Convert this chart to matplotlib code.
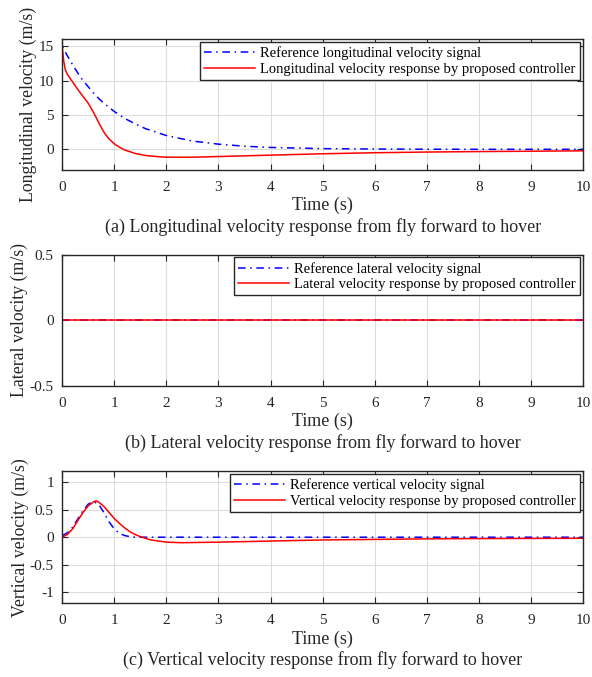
import numpy as np
import matplotlib.pyplot as plt

plt.rcParams['font.family'] = ['Liberation Serif', 'DejaVu Serif']
plt.rcParams['mathtext.fontset'] = 'stix'

# (a) longitudinal velocity
t_lon_ref = [0, 0, 0.1, 0.2, 0.3, 0.4, 0.5, 0.6, 0.7, 0.8, 0.9, 1.0, 1.2, 1.4, 1.6,
             1.8, 2.0, 2.5, 3.0, 3.5, 4.0, 5.0, 6.0, 7.0, 8.0, 9.0, 10.0]
v_lon_ref = [0, 15, 13.6, 12.3, 11.1, 10.0, 9.1, 8.2, 7.4, 6.7, 6.1, 5.5, 4.5, 3.7, 3.0,
             2.5, 2.0, 1.2, 0.75, 0.45, 0.27, 0.1, 0.04, 0.01, 0.0, 0.0, 0.0]
t_lon = [0, 0.03, 0.06, 0.1, 0.2, 0.3, 0.4, 0.5, 0.6, 0.7, 0.8, 0.9, 1.0, 1.1, 1.2,
         1.4, 1.6, 1.8, 2.0, 2.5, 3.0, 4.0, 5.0, 6.0, 7.0, 8.0, 9.0, 10.0]
v_lon = [15, 12.8, 11.6, 10.9, 9.8, 8.7, 7.7, 6.7, 5.4, 3.9, 2.5, 1.5, 0.8, 0.3, -0.1,
         -0.6, -0.9, -1.05, -1.15, -1.15, -1.05, -0.85, -0.65, -0.5, -0.4, -0.33, -0.28, -0.22]

# (b) lateral velocity
t_lat = [0, 10]
v_lat_ref = [0, 0]
v_lat = [0.002, 0.002]

# (c) vertical velocity
t_ver_ref = [0, 0.1, 0.2, 0.3, 0.4, 0.5, 0.6, 0.7, 0.8, 0.9, 1.0, 1.1, 1.2, 1.3, 1.4,
             1.6, 2.0, 4.0, 6.0, 8.0, 10.0]
v_ver_ref = [0.03, 0.08, 0.18, 0.33, 0.48, 0.6, 0.65, 0.6, 0.45, 0.28, 0.15, 0.07, 0.03,
             0.01, 0.0, 0.0, 0.0, 0.0, 0.0, 0.0, 0.0]
t_ver = [0, 0.1, 0.2, 0.3, 0.4, 0.5, 0.6, 0.65, 0.7, 0.8, 0.9, 1.0, 1.1, 1.2, 1.3, 1.4,
         1.5, 1.7, 2.0, 2.3, 3.0, 4.0, 5.0, 6.0, 7.0, 8.0, 10.0]
v_ver = [0.0, 0.05, 0.15, 0.3, 0.45, 0.57, 0.64, 0.66, 0.64, 0.56, 0.45, 0.34, 0.25, 0.17,
         0.1, 0.05, 0.01, -0.05, -0.09, -0.1, -0.09, -0.07, -0.05, -0.04, -0.03, -0.025, -0.02]

panels = [
    dict(tr=t_lon_ref, vr=v_lon_ref, t=t_lon, v=v_lon, ylim=(-3, 16), yticks=[0, 5, 10, 15],
         ylabel='Longitudinal velocity (m/s)', ylx=-0.065,
         leg=['Reference longitudinal velocity signal', 'Longitudinal velocity response by proposed controller'],
         cap='(a) Longitudinal velocity response from fly forward to hover',
         pos=[0.105, 0.749, 0.880, 0.193]),
    dict(tr=t_lat, vr=v_lat_ref, t=t_lat, v=v_lat, ylim=(-0.5, 0.5), yticks=[-0.5, 0, 0.5],
         ylabel='Lateral velocity (m/s)', ylx=-0.083,
         leg=['Reference lateral velocity signal', 'Lateral velocity response by proposed controller'],
         cap='(b) Lateral velocity response from fly forward to hover',
         pos=[0.105, 0.430, 0.880, 0.194]),
    dict(tr=t_ver_ref, vr=v_ver_ref, t=t_ver, v=v_ver, ylim=(-1.2, 1.2), yticks=[-1, -0.5, 0, 0.5, 1],
         ylabel='Vertical velocity (m/s)', ylx=-0.081,
         leg=['Reference vertical velocity signal', 'Vertical velocity response by proposed controller'],
         cap='(c) Vertical velocity response from fly forward to hover',
         pos=[0.105, 0.109, 0.880, 0.195]),
]

fig = plt.figure(figsize=(5.92, 6.77), dpi=100)
for p in panels:
    ax = fig.add_axes(p['pos'])
    ax.plot(p['tr'], p['vr'], color='b', ls=(0, (5, 3, 1, 3)), lw=1.1, label=p['leg'][0])
    ax.plot(p['t'], p['v'], color='r', ls='-', lw=1.1, label=p['leg'][1])
    ax.set_xlim(0, 10)
    ax.set_ylim(*p['ylim'])
    ax.set_xticks(range(11))
    ax.set_yticks(p['yticks'])
    ax.set_yticklabels([f'{y:g}' for y in p['yticks']])
    ax.grid(True, color='#dcdcdc', lw=0.8)
    ax.set_axisbelow(True)
    for s in ax.spines.values():
        s.set_color('#262626')
        s.set_linewidth(1.0)
    ax.tick_params(direction='in', top=True, right=True, length=4, width=0.8,
                   colors='#262626', labelsize=11, labelcolor='#262626')
    ax.tick_params(axis='x', pad=8)
    ax.tick_params(axis='y', pad=6)
    h_px = p['pos'][3] * 677
    ax.set_xlabel('Time (s)', fontsize=13, color='#262626')
    ax.xaxis.set_label_coords(0.5, -27 / h_px)
    ax.set_ylabel(p['ylabel'], fontsize=12.8, va='center', color='#262626')
    ax.yaxis.set_label_coords(p['ylx'], 0.5)
    leg = ax.legend(loc='upper right', fontsize=10.5, handlelength=3.5, borderaxespad=0.2,
                    fancybox=False, framealpha=1, edgecolor='#262626',
                    borderpad=0.3, labelspacing=0.15, handletextpad=0.35)
    leg.get_frame().set_linewidth(1.0)
    fig.text(p['pos'][0] + p['pos'][2] / 2, p['pos'][1] - 0.084, p['cap'],
             ha='center', va='center', fontsize=13, color='#262626')

fig.savefig('out.png', dpi=100)
